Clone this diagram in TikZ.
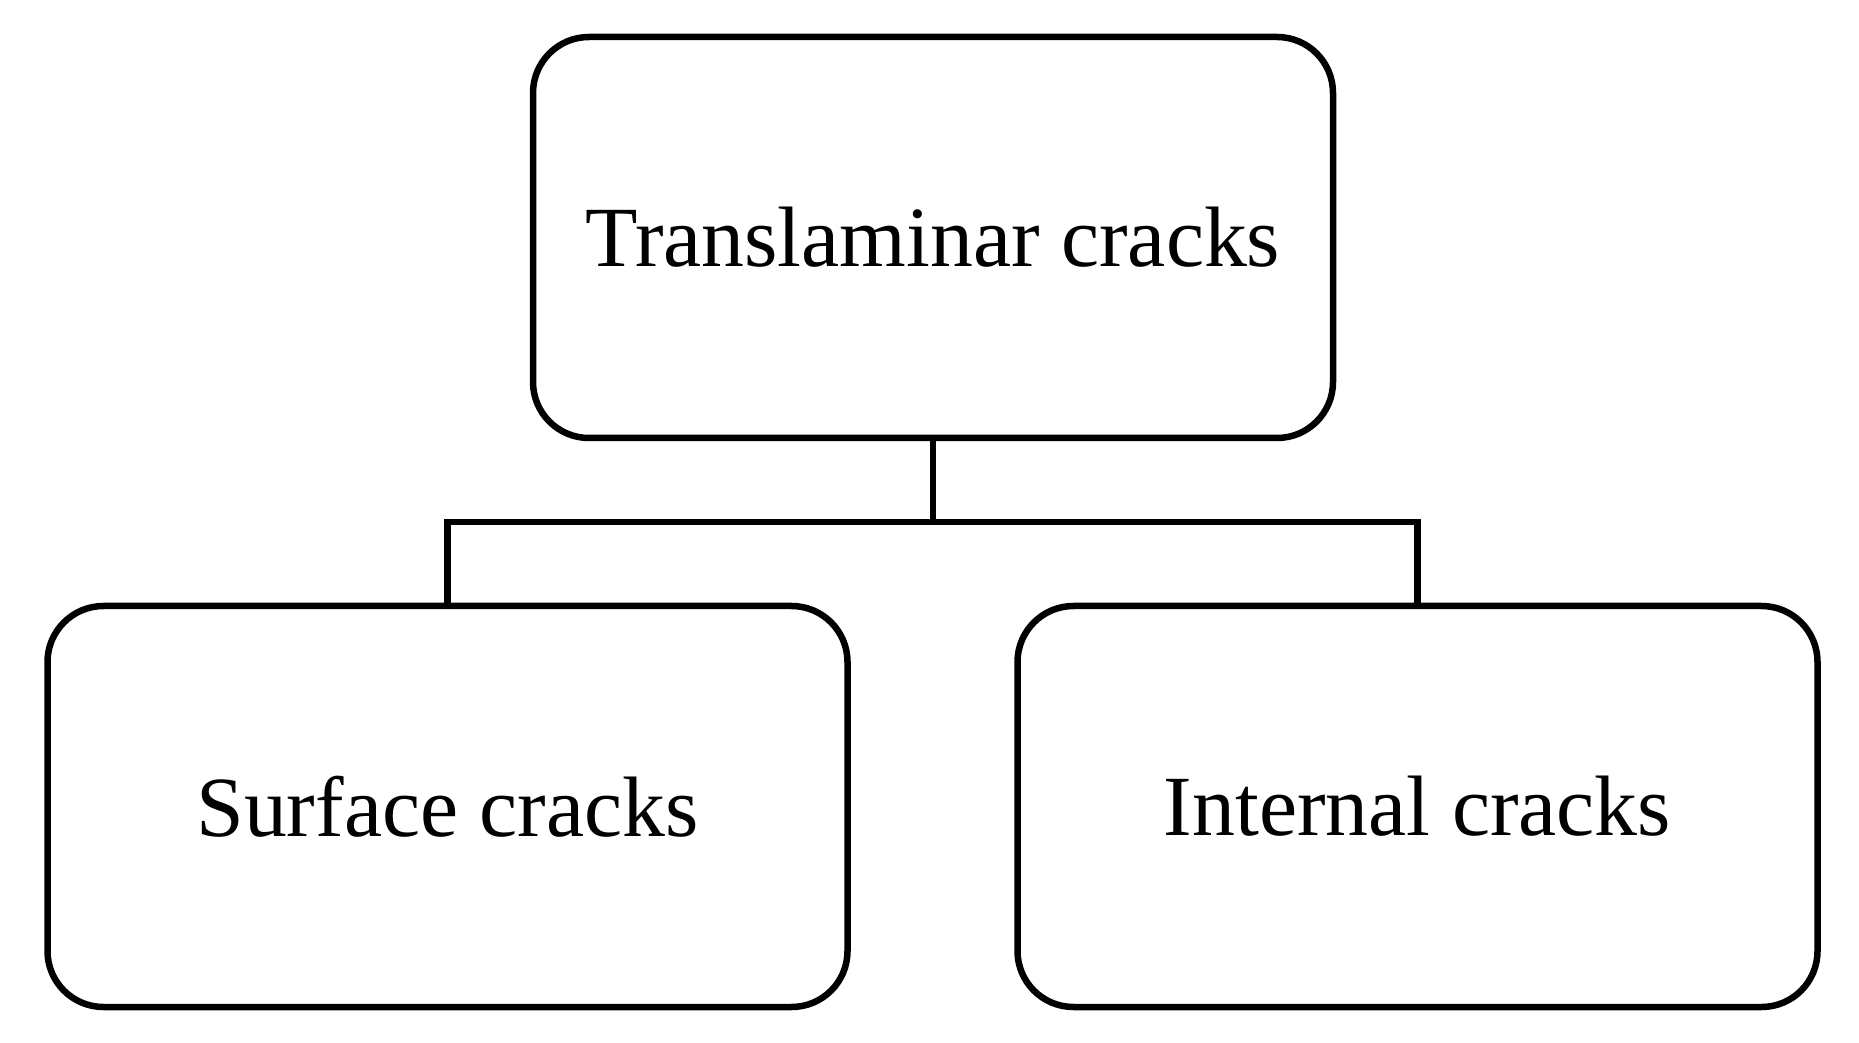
\documentclass[tikz,border=0pt]{standalone}
\usepackage{fontspec}
\setmainfont{Liberation Serif}
\usepackage{tikz}

\tikzset{crackbox/.style={rectangle,rounded corners=0.56cm,draw,line width=0.065cm,minimum width=8cm,minimum height=4.01cm,font=\fontsize{24.4}{29}\selectfont}}

\begin{document}
\begin{tikzpicture}
		\useasboundingbox (0,0) rectangle (18.59,-10.43);
%		\draw[help lines] (0,0) grid (19,-11);
		\path (9.33,-2.375) coordinate (trans_c);
		\path (4.475,-8.065) coordinate (surf_c);
		\path (14.175,-8.065) coordinate (int_c);
		\path (0,-5.22) coordinate (bus);

		\draw (trans_c) node(trans) [crackbox] {Translaminar cracks};
		\draw (surf_c) node(surf) [crackbox] {Surface cracks};
		\draw (int_c) node(int) [crackbox] {Internal cracks};

		\draw[line width=0.065cm] (trans.south) -- (trans.south |- bus);
		\draw[line width=0.065cm] (surf.north) -- (surf.north |- bus) -- (int.north |- bus) -- (int.north);
	\end{tikzpicture}
\end{document}
